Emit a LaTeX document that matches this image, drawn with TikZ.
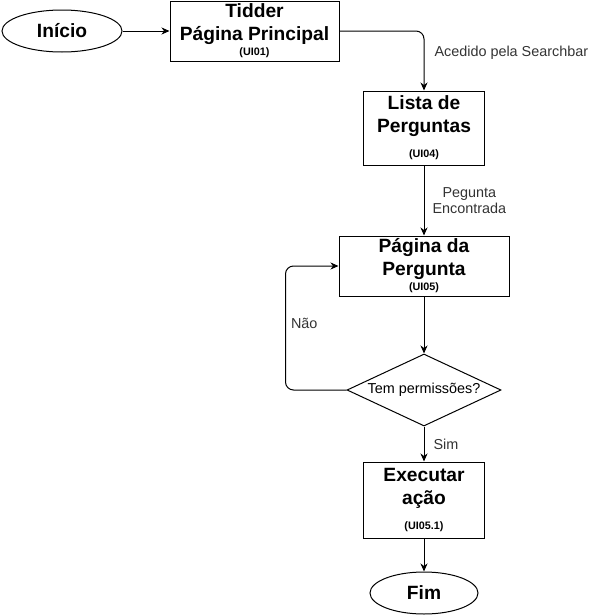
\documentclass[tikz,border=0pt]{standalone}
\usepackage{fontspec}
\setmainfont{Liberation Sans}
\usetikzlibrary{arrows.meta,shapes.geometric}

\tikzset{
  screen/.style={draw, line width=1pt, inner sep=0pt, align=center,
    font=\bfseries\fontsize{19.2}{23}\selectfont},
  terminal/.style={draw, ellipse, line width=1pt, inner sep=0pt,
    minimum height=42pt, font=\bfseries\fontsize{19.2}{23}\selectfont},
  decision/.style={draw, diamond, line width=1pt, inner sep=0pt, aspect=2.14,
    minimum width=154pt, minimum height=72pt, font=\fontsize{14.4}{17}\selectfont},
  flow/.style={line width=1pt, rounded corners=8pt,
    -{Stealth[length=8pt,width=7pt,inset=2.5pt]}},
  edgelabel/.style={font=\fontsize{14.4}{16}\selectfont, text=black!80,
    inner sep=0pt, align=center},
}
\newcommand{\uicode}[1]{{\fontsize{10.8}{12}\selectfont #1}}

\begin{document}
\begin{tikzpicture}[x=1pt,y=-1pt]
        \useasboundingbox (0,0) rectangle (600,616);

        \node[terminal, minimum width=120pt] (inicio) at (62,31) {Início};
        \node[screen, minimum width=169pt, minimum height=60pt] (tidder) at (254.5,31)
            {Tidder\\Página Principal\\[-8pt]\uicode{(UI01)}};
        \node[screen, minimum width=121pt, minimum height=74pt] (lista) at (424,128)
            {Lista de\\Perguntas\\[2pt]\uicode{(UI04)}};
        \node[screen, minimum width=170pt, minimum height=60pt] (pagina) at (424,266)
            {Página da\\Pergunta\\[-8pt]\uicode{(UI05)}};
        \node[decision] (perm) at (424,390) {Tem permissões?};
        \node[screen, minimum width=121pt, minimum height=76pt] (exec) at (424,500)
            {Executar\\ação\\[2pt]\uicode{(UI05.1)}};
        \node[terminal, minimum width=108pt] (fim) at (424,593) {Fim};

        \draw[flow] (inicio) -- (tidder);
        \draw[flow] (tidder.east) -| node[edgelabel, pos=0.68, anchor=west, xshift=10pt]
            {Acedido pela Searchbar} (lista.north);
        \draw[flow] (lista) -- node[edgelabel, anchor=west, xshift=8pt]
            {Pegunta\\Encontrada} (pagina);
        \draw[flow] (pagina) -- (perm);
        \draw[flow] (perm.west) -- ++(-61,0) |- node[edgelabel, pos=0.27, anchor=west, xshift=5pt]
            {Não} (pagina.west);
        \draw[flow] (perm) -- node[edgelabel, anchor=west, xshift=9pt] {Sim} (exec);
        \draw[flow] (exec) -- (fim);
\end{tikzpicture}
\end{document}
